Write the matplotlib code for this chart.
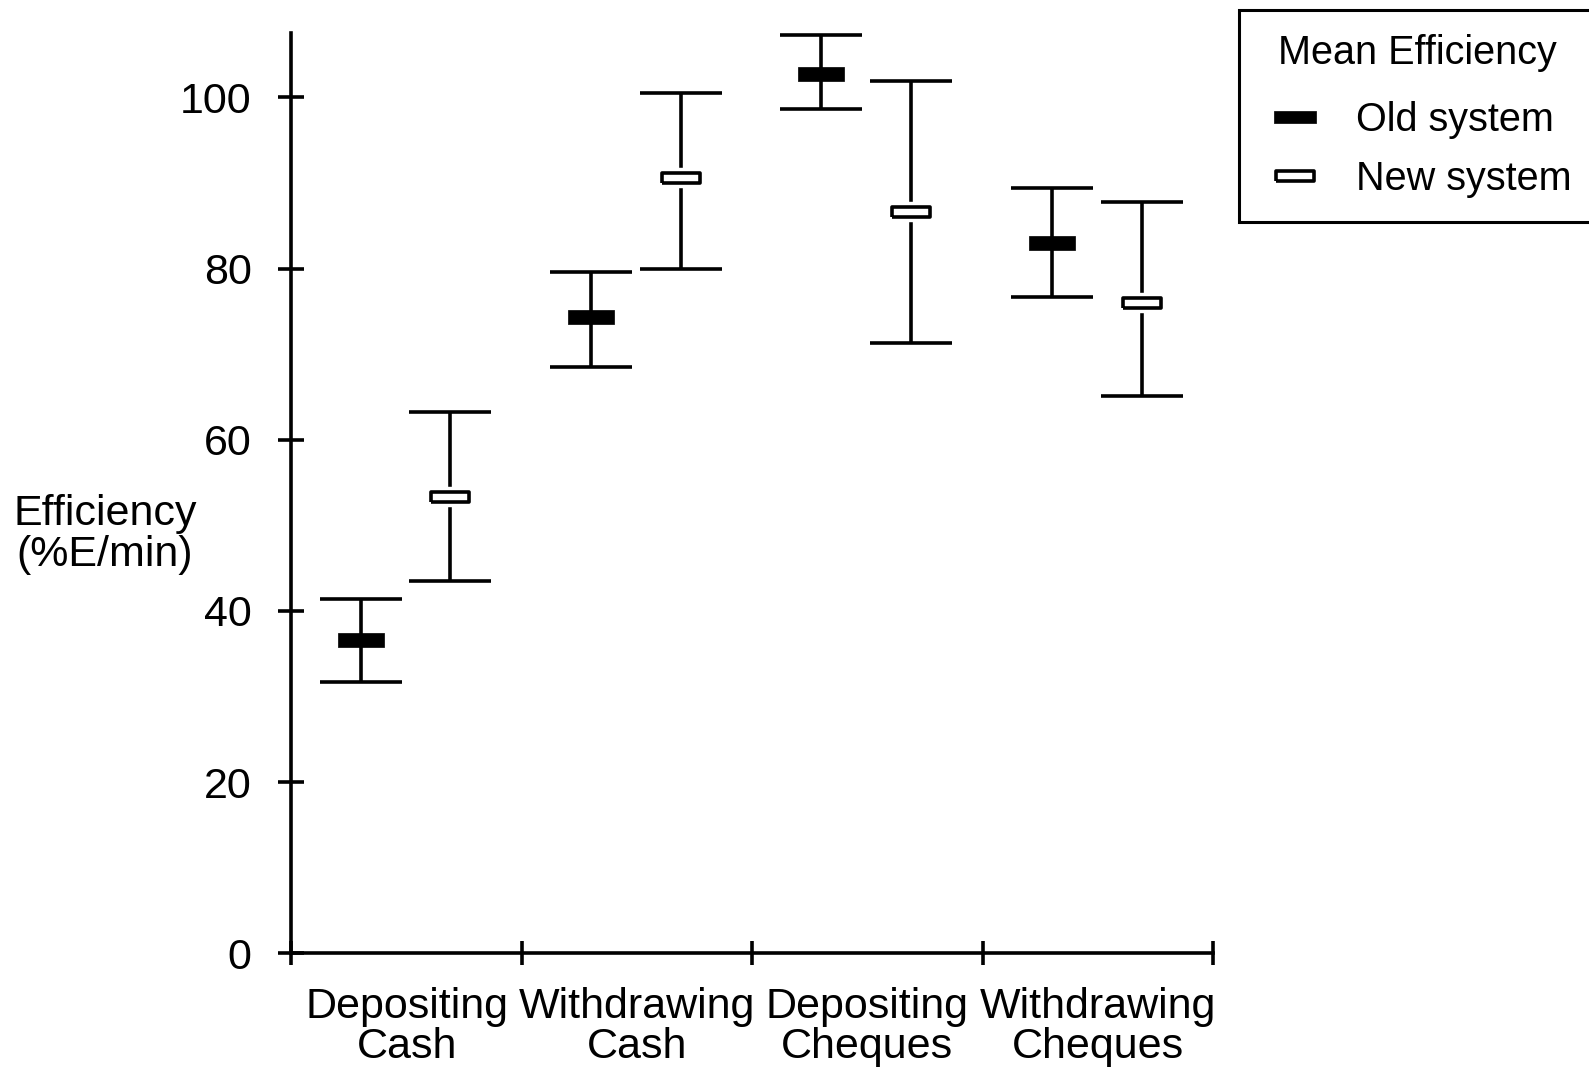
import matplotlib
matplotlib.use("Agg")
import matplotlib.pyplot as plt
from matplotlib.lines import Line2D
import numpy as np

plt.rcParams["font.family"] = ["Liberation Sans", "DejaVu Sans"]

# Data (%E/min)
categories = ["Depositing\nCash", "Withdrawing\nCash",
              "Depositing\nCheques", "Withdrawing\nCheques"]
old_mean = np.array([36.6, 74.3, 102.7, 83.0])
old_low = np.array([31.7, 68.5, 98.6, 76.7])
old_high = np.array([41.4, 79.6, 107.3, 89.4])
new_mean = np.array([53.3, 90.6, 86.6, 76.0])
new_low = np.array([43.5, 80.0, 71.3, 65.1])
new_high = np.array([63.2, 100.5, 101.9, 87.8])
series_labels = ["Old system", "New system"]

OLD_OFF, NEW_OFF = 0.30, 0.69
LW = 2.6
FS = 31

# flat rectangles used as mean markers
RECT_OLD = [(-1.71, -0.5), (1.71, -0.5), (1.71, 0.5), (-1.71, 0.5), (-1.71, -0.5)]
RECT_NEW = [(-1.75, -0.5), (1.75, -0.5), (1.75, 0.5), (-1.75, 0.5), (-1.75, -0.5)]

fig = plt.figure(figsize=(15.89, 10.67), dpi=100)
ax = fig.add_axes([0.1834, 0.1066, 0.58, 0.8622])

idx = np.arange(len(categories))
for off, mean, low, high in [(OLD_OFF, old_mean, old_low, old_high),
                             (NEW_OFF, new_mean, new_low, new_high)]:
    ax.errorbar(idx + off, mean, yerr=[mean - low, high - mean], fmt="none",
                ecolor="black", elinewidth=LW, capsize=29.5, capthick=LW,
                zorder=2)

ax.plot(idx + OLD_OFF, old_mean, ls="none", marker=RECT_OLD, ms=32.8,
        mfc="black", mec="black", mew=0.5, zorder=4)
# white halo so the whisker stops short of the hollow marker
ax.plot(idx + NEW_OFF, new_mean, ls="none", marker=RECT_NEW, ms=27.5,
        mfc="white", mec="white", mew=7.5, zorder=3)
ax.plot(idx + NEW_OFF, new_mean, ls="none", marker=RECT_NEW, ms=27.5,
        mfc="white", mec="black", mew=LW, zorder=4)

ax.set_xlim(0, 4)
ax.set_ylim(0, 107.5)
for s in ["top", "right"]:
    ax.spines[s].set_visible(False)
for s in ["left", "bottom"]:
    ax.spines[s].set_linewidth(2.6)

ax.set_yticks([0, 20, 40, 60, 80, 100])
ax.tick_params(axis="y", direction="inout", length=19.4, width=2.6,
               labelsize=FS, pad=19)
ax.set_xticks(range(5))
ax.set_xticklabels([])
ax.tick_params(axis="x", which="major", direction="inout", length=17, width=2.6)
ax.set_xticks(idx + 0.5, minor=True)
ax.set_xticklabels(categories, minor=True, fontsize=FS, linespacing=1.0)
ax.tick_params(axis="x", which="minor", length=0, pad=24)

ax.set_ylabel("Efficiency\n(%E/min)", rotation=0, ha="center", va="center",
              fontsize=FS, linespacing=1.05)
ax.yaxis.set_label_coords(-0.2025, 0.455)

handles = [
    Line2D([], [], ls="none", marker=RECT_OLD, ms=30.7, mfc="black",
           mec="black", mew=0.5),
    Line2D([], [], ls="none", marker=RECT_NEW, ms=27.5, mfc="white",
           mec="black", mew=LW),
]
leg = fig.legend(handles, series_labels, title="Mean Efficiency",
                 loc="upper left", bbox_to_anchor=(0.7795, 0.991),
                 borderaxespad=0, fontsize=28.5, title_fontsize=28.5,
                 frameon=True, fancybox=False, edgecolor="black",
                 framealpha=1, borderpad=0.62, labelspacing=0.52,
                 handlelength=1.6, handletextpad=0.75)
leg.get_frame().set_linewidth(2.2)
leg._legend_box.sep = 21  # extra room under the title

fig.savefig("out.png", dpi=100)
